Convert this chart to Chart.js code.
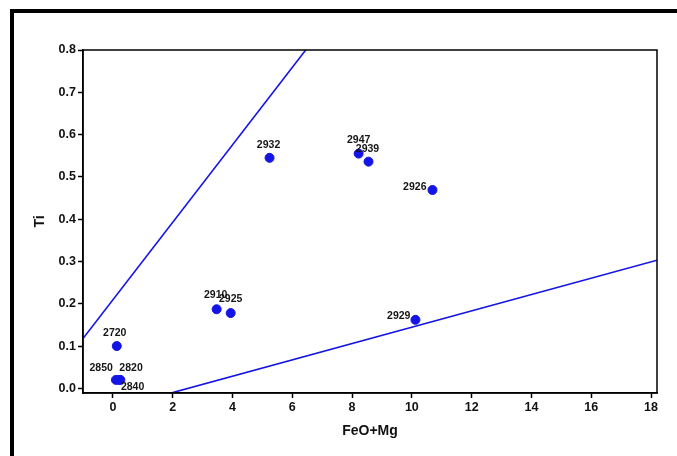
<!DOCTYPE html>
<html>
<head>
<meta charset="utf-8">
<script src="https://cdn.jsdelivr.net/npm/chart.js@4"></script>
<style>
  html, body { margin: 0; padding: 0; background: #fff; overflow: hidden; }
  #wrap { position: relative; width: 677px; height: 456px; overflow: hidden; }
  #frame { position: absolute; left: 10px; top: 9px; width: 720px; height: 520px; border: 4px solid #000; }
  #chart { position: absolute; left: 0; top: 0; }
</style>
</head>
<body>
<div id="wrap">
  <div id="frame"></div>
  <canvas id="chart" width="677" height="456"></canvas>
</div>
<script>
const sampleIds = ["2720", "2850", "2820", "2840", "2910", "2925", "2932", "2947", "2939", "2926", "2929"];
const feoMg = [0.13, 0.1, 0.25, 0.2, 3.47, 3.94, 5.24, 8.22, 8.55, 10.69, 10.12];
const ti = [0.1, 0.02, 0.02, 0.02, 0.187, 0.178, 0.545, 0.555, 0.536, 0.469, 0.162];
const upperLineX = [-1, 6.45];
const upperLineY = [0.118, 0.8];
const lowerLineX = [2, 18.2];
const lowerLineY = [-0.01, 0.303];
const xTicks = [0, 2, 4, 6, 8, 10, 12, 14, 16, 18];
const yTicks = [0, 0.1, 0.2, 0.3, 0.4, 0.5, 0.6, 0.7, 0.8];

// where each sample label sits relative to its point: [dx, dy, align]
const labelPlace = {
  "2720": [-2, -13, "center"],
  "2850": [-3, -12, "right"],
  "2820": [-1, -12, "left"],
  "2840": [2, 7, "left"],
  "2910": [-1, -14, "center"],
  "2925": [0, -14, "center"],
  "2932": [-1, -13, "center"],
  "2947": [0, -14, "center"],
  "2939": [-1, -13, "center"],
  "2926": [-6, -3, "right"],
  "2929": [-5, -4, "right"]
};

const toPts = (xs, ys) => xs.map((x, i) => ({ x: x, y: ys[i] }));
const blue = "#1414e6";
const sans = "'Liberation Sans', Arial, sans-serif";

const sampleLabels = {
  id: "sampleLabels",
  afterDatasetsDraw(chart) {
    const ctx = chart.ctx;
    const meta = chart.getDatasetMeta(0);
    ctx.save();
    ctx.font = "bold 10.5px " + sans;
    ctx.fillStyle = "#151515";
    ctx.textBaseline = "middle";
    meta.data.forEach((pt, i) => {
      const p = labelPlace[sampleIds[i]];
      ctx.textAlign = p[2];
      ctx.fillText(sampleIds[i], pt.x + p[0], pt.y + p[1]);
    });
    ctx.restore();
  }
};

const plotBox = {
  id: "plotBox",
  afterDraw(chart) {
    const a = chart.chartArea;
    const ctx = chart.ctx;
    ctx.save();
    ctx.strokeStyle = "#000";
    ctx.lineWidth = 1.5;
    ctx.strokeRect(a.left, a.top, a.right - a.left, a.bottom - a.top);
    ctx.restore();
  }
};

const tickFont = { family: sans, size: 12.5, weight: "bold" };

new Chart(document.getElementById("chart").getContext("2d"), {
  type: "scatter",
  data: {
    datasets: [
      {
        data: toPts(feoMg, ti),
        backgroundColor: blue,
        borderColor: blue,
        pointRadius: 4.5,
        pointHoverRadius: 4.5
      },
      {
        type: "line",
        data: toPts(upperLineX, upperLineY),
        borderColor: blue,
        borderWidth: 1.6,
        pointRadius: 0,
        fill: false
      },
      {
        type: "line",
        data: toPts(lowerLineX, lowerLineY),
        borderColor: blue,
        borderWidth: 1.6,
        pointRadius: 0,
        fill: false
      }
    ]
  },
  options: {
    responsive: false,
    animation: false,
    events: [],
    layout: { padding: { left: 28, right: 20, top: 50, bottom: 12 } },
    plugins: { legend: { display: false }, tooltip: { enabled: false } },
    scales: {
      x: {
        type: "linear",
        min: -1,
        max: 18.2,
        afterBuildTicks: (s) => { s.ticks = xTicks.map((v) => ({ value: v })); },
        afterFit: (s) => { s.height = 51; },
        grid: { drawOnChartArea: false, color: "#000", tickLength: 5, tickWidth: 1.5 },
        border: { color: "#000", width: 1.5 },
        ticks: { color: "#111", font: tickFont, padding: 2, maxRotation: 0 },
        title: { display: true, text: "FeO+Mg", color: "#111", font: { family: sans, size: 14, weight: "bold" }, padding: { top: 3 } }
      },
      y: {
        type: "linear",
        min: -0.011,
        max: 0.8,
        afterBuildTicks: (s) => { s.ticks = yTicks.map((v) => ({ value: v })); },
        afterFit: (s) => { s.width = 55; },
        grid: { drawOnChartArea: false, color: "#000", tickLength: 5, tickWidth: 1.5 },
        border: { color: "#000", width: 1.5 },
        ticks: { color: "#111", font: tickFont, padding: 2, callback: (v) => v.toFixed(1) },
        title: { display: true, text: "Ti", color: "#111", font: { family: sans, size: 14, weight: "bold" }, padding: { bottom: 4 } }
      }
    }
  },
  plugins: [sampleLabels, plotBox]
});
</script>
</body>
</html>
